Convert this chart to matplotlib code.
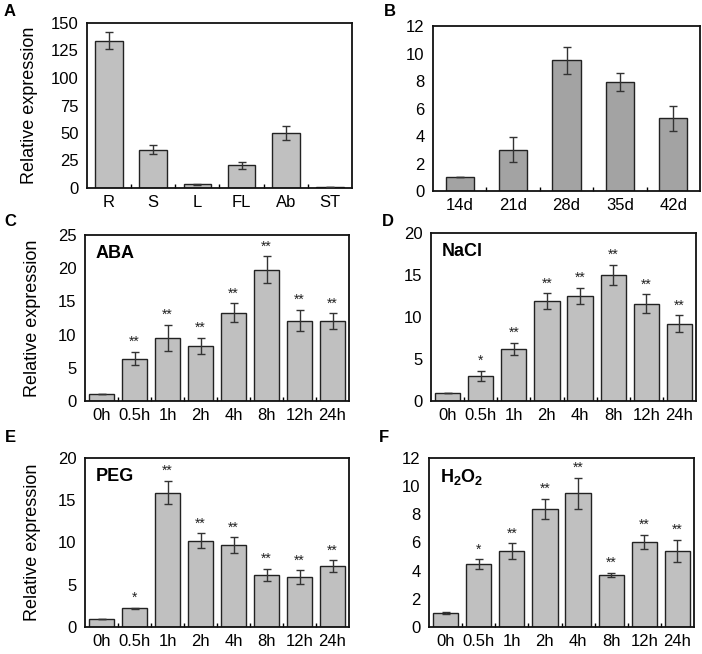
import numpy as np
import matplotlib
matplotlib.use('Agg')
import matplotlib.pyplot as plt

plt.rcParams['font.family'] = ['Liberation Sans', 'DejaVu Sans']
plt.rcParams['mathtext.fontset'] = 'custom'
plt.rcParams['mathtext.rm'] = 'Liberation Sans'
plt.rcParams['mathtext.bf'] = 'Liberation Sans:bold'

# panel A - tissues
tissues = ['R', 'S', 'L', 'FL', 'Ab', 'ST']
tissue_vals = [134, 35, 3.5, 20.5, 50, 1.0]
tissue_err = [8, 4, 0.4, 3, 6, 0.3]

# panel B - age
ages = ['14d', '21d', '28d', '35d', '42d']
age_vals = [1.0, 3.0, 9.5, 7.9, 5.3]
age_err = [0, 0.9, 1.0, 0.65, 0.9]

# panels C-F - treatments
hours = ['0h', '0.5h', '1h', '2h', '4h', '8h', '12h', '24h']
aba_vals = [1.0, 6.4, 9.5, 8.3, 13.3, 19.8, 12.1, 12.0]
aba_err = [0, 1.0, 2.0, 1.2, 1.4, 2.0, 1.6, 1.2]
aba_sig = ['', '**', '**', '**', '**', '**', '**', '**']
nacl_vals = [1.0, 3.0, 6.2, 11.9, 12.5, 15.0, 11.6, 9.2]
nacl_err = [0, 0.6, 0.7, 0.9, 1.0, 1.2, 1.1, 1.0]
nacl_sig = ['', '*', '**', '**', '**', '**', '**', '**']
peg_vals = [1.0, 2.2, 15.9, 10.2, 9.7, 6.2, 5.9, 7.2]
peg_err = [0, 0.1, 1.4, 0.9, 0.9, 0.7, 0.8, 0.7]
peg_sig = ['', '*', '**', '**', '**', '**', '**', '**']
h2o2_vals = [1.0, 4.45, 5.4, 8.4, 9.5, 3.7, 6.05, 5.4]
h2o2_err = [0.1, 0.35, 0.55, 0.7, 1.1, 0.15, 0.5, 0.8]
h2o2_sig = ['', '*', '**', '**', '**', '**', '**', '**']

W, H = 702, 654
fig = plt.figure(figsize=(W / 100, H / 100), dpi=100)


def make_ax(x0, x1, y0, y1):
    return fig.add_axes([x0 / W, 1 - y1 / H, (x1 - x0) / W, (y1 - y0) / H])


def bars(ax, labels, vals, err, color, width, ymax, ystep, sig=None, tag=None):
    x = np.arange(len(labels))
    ax.bar(x, vals, width=width, color=color, edgecolor='#222222', linewidth=1.0, zorder=2)
    ax.errorbar(x, vals, yerr=err, fmt='none', ecolor='#333333', elinewidth=1.0,
                capsize=3, capthick=1.0, zorder=3)
    ax.set_xlim(-0.5, len(labels) - 0.5)
    ax.set_ylim(0, ymax)
    ax.set_yticks(np.arange(0, ymax + ystep / 2, ystep))
    ax.set_xticks(x)
    ax.set_xticklabels(labels)
    ax.set_xticks(np.arange(0.5, len(labels) - 0.5, 1), minor=True)
    ax.tick_params(axis='x', which='major', length=0, pad=5, labelsize=12)
    ax.tick_params(axis='x', which='minor', direction='in', length=3, width=1)
    ax.tick_params(axis='y', length=0, pad=6, labelsize=12)
    for s in ax.spines.values():
        s.set_linewidth(1.3)
        s.set_color('#111111')
    if sig is not None:
        for xi, v, e, s in zip(x, vals, err, sig):
            if s:
                ax.annotate(s, (xi, v + e), xytext=(0, 2), textcoords='offset points',
                            ha='center', va='bottom', fontsize=10, color='#222222')
    if tag is not None:
        ax.text(0.04, 0.89, tag, transform=ax.transAxes, fontsize=13,
                fontweight='bold', ha='left', va='center')


light = '#c0c0c0'
dark = '#a3a3a3'

axA = make_ax(87, 352, 23, 188)
bars(axA, tissues, tissue_vals, tissue_err, light, 0.63, 150, 25)
axA.set_ylabel('Relative expression', fontsize=13, labelpad=9)

axB = make_ax(433, 700, 26, 191)
bars(axB, ages, age_vals, age_err, dark, 0.53, 12, 2)

axC = make_ax(85, 349, 235, 401)
bars(axC, hours, aba_vals, aba_err, light, 0.76, 25, 5, aba_sig, 'ABA')
axC.set_ylabel('Relative expression', fontsize=13, labelpad=12)

axD = make_ax(431, 696, 233, 401)
bars(axD, hours, nacl_vals, nacl_err, light, 0.76, 20, 5, nacl_sig, 'NaCl')

axE = make_ax(85, 349, 458, 627)
bars(axE, hours, peg_vals, peg_err, light, 0.76, 20, 5, peg_sig, 'PEG')
axE.set_ylabel('Relative expression', fontsize=13, labelpad=12)

axF = make_ax(429, 694, 458, 627)
bars(axF, hours, h2o2_vals, h2o2_err, light, 0.76, 12, 2, h2o2_sig, r'$\mathbf{H_2O_2}$')

for letter, px, py in [('A', 10, 12), ('B', 390, 12), ('C', 10, 222),
                       ('D', 388, 222), ('E', 10, 438), ('F', 384, 438)]:
    fig.text(px / W, 1 - py / H, letter, fontsize=12, fontweight='bold',
             ha='center', va='center')

fig.savefig('out.png', dpi=100)
